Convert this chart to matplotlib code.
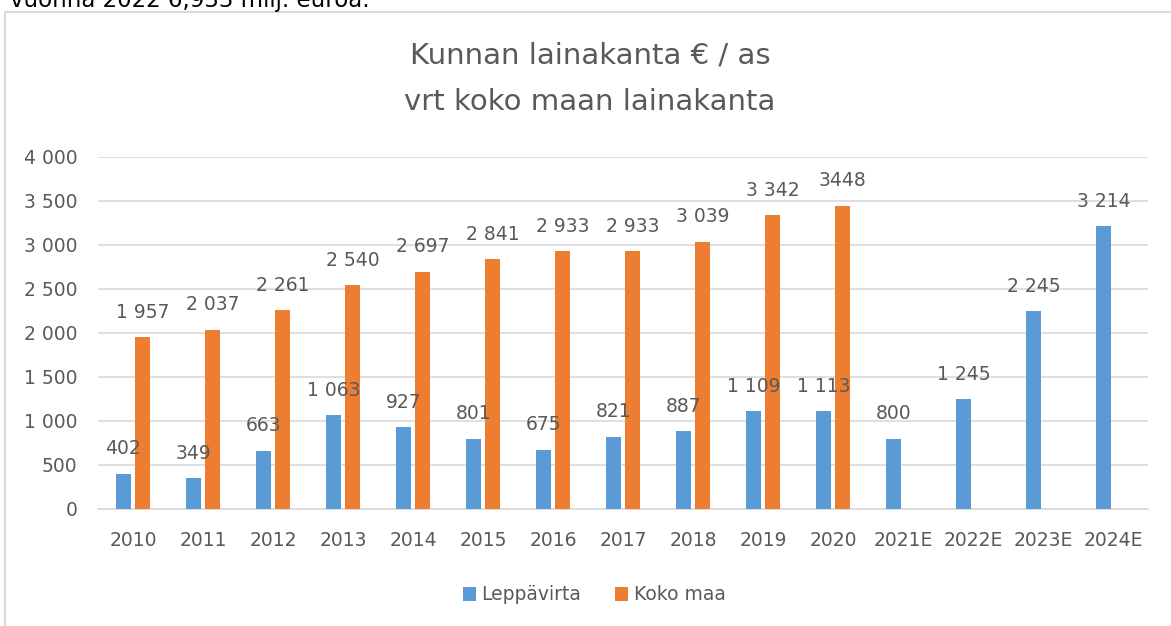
import matplotlib
matplotlib.use("Agg")
import matplotlib.pyplot as plt
import numpy as np
from matplotlib.patches import Rectangle

categories = ["2010", "2011", "2012", "2013", "2014", "2015", "2016", "2017",
              "2018", "2019", "2020", "2021E", "2022E", "2023E", "2024E"]
leppavirta = [402, 349, 663, 1063, 927, 801, 675, 821, 887, 1109, 1113, 800, 1245, 2245, 3214]
koko_maa = [1957, 2037, 2261, 2540, 2697, 2841, 2933, 2933, 3039, 3342, 3448,
            None, None, None, None]
lepp_labels = ["402", "349", "663", "1 063", "927", "801", "675", "821", "887",
               "1 109", "1 113", "800", "1 245", "2 245", "3 214"]
koko_labels = ["1 957", "2 037", "2 261", "2 540", "2 697", "2 841", "2 933", "2 933",
               "3 039", "3 342", "3448"]
yticks = [0, 500, 1000, 1500, 2000, 2500, 3000, 3500, 4000]
ytick_labels = ["0", "500", "1 000", "1 500", "2 000", "2 500", "3 000", "3 500", "4 000"]

BLUE = "#5B9BD5"
ORANGE = "#ED7D31"
TXT = "#595959"
FS = 13.5

W, H = 1171, 626
fig = plt.figure(figsize=(W / 100, H / 100), dpi=100)
plt.rcParams['font.family'] = ['DejaVu Sans']

# chart frame
fig.patches.append(Rectangle((5 / W, -0.1), 1.2, (H - 12) / H + 0.1, transform=fig.transFigure,
                             fill=False, edgecolor="#D9D9D9", linewidth=1.5))
# text above the chart, cut by the top edge as in the source
fig.text(370 / W, 1 - 7 / H, "vuonna 2022 6,933 milj. euroa.", fontsize=16.5, color="black",
         ha="right", va="baseline")

ax = fig.add_axes([98 / W, 1 - 509 / H, (1148 - 98) / W, (509 - 157) / H])
x = np.arange(len(categories))
bw = 0.215
off = 0.137
ax.bar(x - off, leppavirta, width=bw, color=BLUE, label="Leppävirta", zorder=3)
kx = [i for i, v in enumerate(koko_maa) if v is not None]
kv = [v for v in koko_maa if v is not None]
ax.bar(np.array(kx) + off, kv, width=bw, color=ORANGE, label="Koko maa", zorder=3)

for i, (v, s) in enumerate(zip(leppavirta, lepp_labels)):
    ax.annotate(s, (i - off, v), xytext=(0, 11), textcoords="offset points",
                ha="center", va="bottom", fontsize=FS, color=TXT, zorder=4)
for i, v, s in zip(kx, kv, koko_labels):
    ax.annotate(s, (i + off, v), xytext=(0, 11), textcoords="offset points",
                ha="center", va="bottom", fontsize=FS, color=TXT, zorder=4)

ax.set_xlim(-0.5, len(categories) - 0.5)
ax.set_ylim(0, 4000)
ax.set_yticks(yticks)
ax.set_yticklabels(ytick_labels)
ax.set_xticks(x)
ax.set_xticklabels(categories)
ax.tick_params(axis="both", length=0, labelsize=FS, labelcolor=TXT)
ax.tick_params(axis="x", pad=16)
ax.tick_params(axis="y", pad=15)
ax.grid(axis="y", color="#D9D9D9", linewidth=1.2, zorder=0)
for s in ["top", "right", "left"]:
    ax.spines[s].set_visible(False)
ax.spines["bottom"].set_color("#D9D9D9")
ax.spines["bottom"].set_linewidth(1.2)

fig.text(590 / W, 1 - 63 / H, "Kunnan lainakanta € / as",
         ha="center", va="baseline", fontsize=21, color=TXT)
fig.text(590 / W, 1 - 110 / H, "vrt koko maan lainakanta",
         ha="center", va="baseline", fontsize=21, color=TXT)

handles, labels = ax.get_legend_handles_labels()
fig.legend(handles, labels, loc="center", bbox_to_anchor=(594 / W, 1 - 595 / H), ncol=2,
           frameon=False, fontsize=FS, labelcolor=TXT, handlelength=0.7, handleheight=0.7,
           handletextpad=0.3, columnspacing=1.8)

fig.savefig("out.png", dpi=100)
